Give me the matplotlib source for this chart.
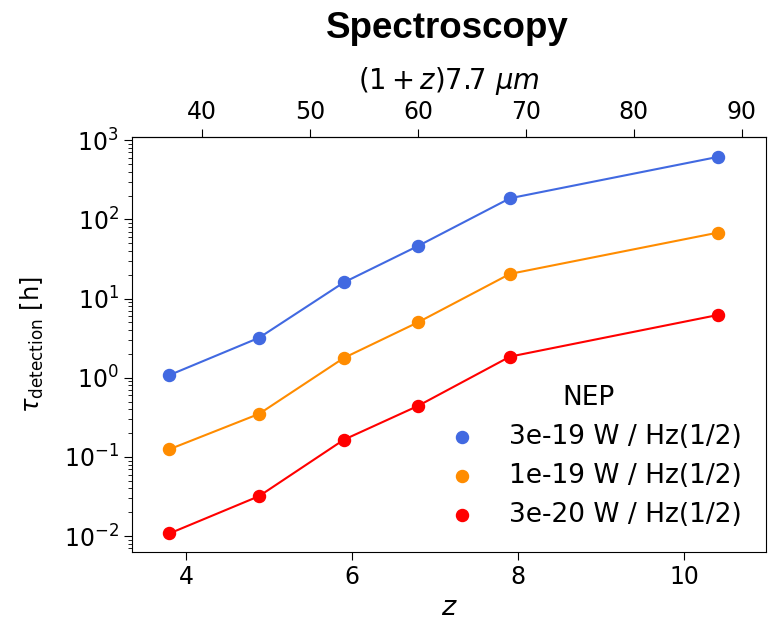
import matplotlib.pyplot as plt
import numpy as np

z = [3.80, 4.88, 5.90, 6.79, 7.90, 10.40]
t_3e19 = [1.08, 3.2, 16.0, 46.0, 185.0, 615.0]
t_1e19 = [0.125, 0.35, 1.78, 5.0, 20.5, 68.0]
t_3e20 = [0.0108, 0.032, 0.165, 0.44, 1.85, 6.2]

labels = ["3e-19 W / Hz(1/2)", "1e-19 W / Hz(1/2)", "3e-20 W / Hz(1/2)"]
colors = ["royalblue", "darkorange", "red"]
top_ticks = [40, 50, 60, 70, 80, 90]

fig = plt.figure(figsize=(7.74, 6.23), dpi=100)
ax = fig.add_axes([0.1705, 0.114, 0.819, 0.666])

for t, lab, c in zip([t_3e19, t_1e19, t_3e20], labels, colors):
    ax.plot(z, t, color=c, lw=1.5)
    ax.scatter(z, t, color=c, s=75, zorder=3, label=lab)

ax.set_yscale("log")
ax.set_ylim(10**-2.2, 10**3.04)
ax.set_xlim(3.35, 10.98)
ax.set_xticks([4, 6, 8, 10])
ax.tick_params(labelsize=17, length=6)
ax.tick_params(which="minor", length=3)
ax.set_xlabel(r"$z$", fontsize=19.5)
ax.set_ylabel(r"$\tau_{\rm detection}$ [h]", fontsize=17.4, labelpad=12.5)

top = ax.secondary_xaxis("top", functions=(lambda x: (1 + x) * 7.7, lambda w: w / 7.7 - 1))
top.set_xticks(top_ticks)
top.tick_params(labelsize=17, length=6)
top.set_xlabel(r"$(1+z)7.7\ \mu m$", fontsize=19.8, labelpad=8)

ax.legend(title="NEP", loc="lower right", frameon=False, fontsize=19, title_fontsize=19,
          scatterpoints=1)

fig.text(0.5785, 0.939, "Spectroscopy", ha="center", va="baseline",
         fontsize=26.5, fontweight="bold", family="Liberation Sans")

fig.savefig("out.png", dpi=100)
